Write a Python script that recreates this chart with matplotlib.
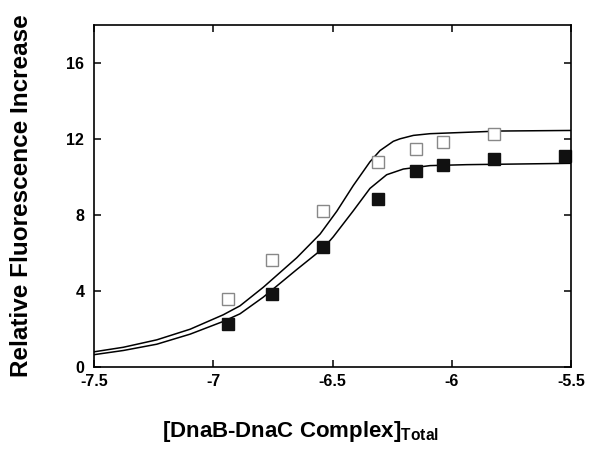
import matplotlib
matplotlib.use("Agg")
import matplotlib.pyplot as plt

plt.rcParams["font.family"] = "Liberation Sans"
plt.rcParams["font.weight"] = "bold"
plt.rcParams["mathtext.fontset"] = "custom"
plt.rcParams["mathtext.bf"] = "Liberation Sans:bold"
plt.rcParams["mathtext.rm"] = "Liberation Sans:bold"

# measured points (log concentration)
x_pts = [-6.937, -6.754, -6.539, -6.309, -6.151, -6.035, -5.824]
open_y = [3.60, 5.64, 8.22, 10.80, 11.46, 11.85, 12.24]

x_filled = [-6.937, -6.754, -6.539, -6.309, -6.151, -6.035, -5.824, -5.524]
filled_y = [2.28, 3.83, 6.33, 8.82, 10.30, 10.63, 10.95, 11.09]

# fitted curves
fit_x_open = [-7.5, -7.377, -7.237, -7.097, -6.958, -6.888, -6.790, -6.650,
              -6.552, -6.482, -6.413, -6.343, -6.301, -6.245, -6.217, -6.161,
              -6.091, -5.798, -5.5]
fit_y_open = [0.80, 1.04, 1.43, 1.99, 2.75, 3.22, 4.20, 5.75,
              7.00, 8.20, 9.55, 10.80, 11.39, 11.88, 12.01, 12.19,
              12.28, 12.42, 12.45]

fit_x_filled = [-7.5, -7.377, -7.237, -7.097, -6.958, -6.888, -6.790, -6.650,
                -6.539, -6.497, -6.413, -6.343, -6.273, -6.203, -6.091, -5.937,
                -5.5]
fit_y_filled = [0.65, 0.87, 1.20, 1.73, 2.40, 2.80, 3.68, 5.13,
                6.25, 6.85, 8.22, 9.40, 10.12, 10.42, 10.60, 10.65,
                10.72]

fig = plt.figure(figsize=(6, 4.63), dpi=100)
ax = fig.add_axes([0.1567, 0.2073, 0.795, 0.7387])

ax.plot(fit_x_open, fit_y_open, color="black", lw=1.1)
ax.plot(fit_x_filled, fit_y_filled, color="black", lw=1.1)
ax.plot(x_pts, open_y, "s", ms=8.5, mfc="white", mec="#888888", mew=1.0, clip_on=False)
ax.plot(x_filled, filled_y, "s", ms=8.5, mfc="#111111", mec="#111111", clip_on=False)

ax.set_xlim(-7.5, -5.5)
ax.set_ylim(0, 18)
ax.set_xticks([-7.5, -7, -6.5, -6, -5.5])
ax.set_xticklabels(["-7.5", "-7", "-6.5", "-6", "-5.5"])
ax.set_yticks([0, 4, 8, 12, 16])
ax.tick_params(direction="in", length=5, width=1.1, top=True, right=True,
               labelsize=11.5)
ax.tick_params(axis="x", pad=5)
ax.tick_params(axis="y", pad=7)
for s in ax.spines.values():
    s.set_linewidth(1.2)

fig.text(22 / 600, 1 - 196 / 463, "Relative Fluorescence Increase", rotation=90,
         ha="center", va="center", fontsize=17.5, fontweight="bold")
fig.text(162 / 600, 1 - 437 / 463, r"[DnaB-DnaC Complex]$_{\mathbf{Total}}$",
         ha="left", va="baseline", fontsize=16, fontweight="bold")

fig.savefig("out.png", dpi=100)
